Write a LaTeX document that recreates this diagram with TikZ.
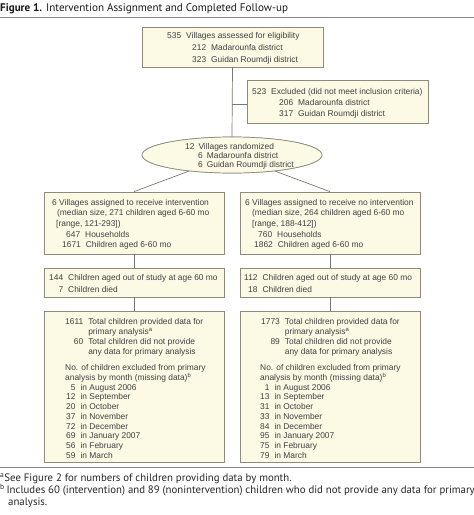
\documentclass[tikz,border=0pt]{standalone}
\usepackage{fontspec}
\setmainfont{Liberation Sans}
\newfontfamily\headfont{PT Sans}
\usetikzlibrary{shapes.geometric}
\definecolor{boxfill}{HTML}{FCF9E5}
\definecolor{boxline}{HTML}{8E8B7C}
\definecolor{txtc}{HTML}{404040}
\definecolor{rulec}{HTML}{858585}
\definecolor{linkc}{HTML}{7A786E}
\newcommand{\tl}[1]{\begin{tabular}[t]{@{}l@{}}#1\end{tabular}}
\newcommand{\tr}[1]{\begin{tabular}[t]{@{}r@{\hspace{5pt}}l@{}}#1\end{tabular}}
\begin{document}
\begin{tikzpicture}[x=1pt,y=-1pt,
  box/.style={draw=boxline, fill=boxfill, line width=0.7pt, inner sep=0pt},
  link/.style={draw=linkc, line width=0.7pt},
  txt/.style={anchor=base west, inner sep=0pt, text=txtc, font=\fontsize{8.4}{#1}\selectfont},
  txt/.default=10,
  foot/.style={anchor=base west, inner sep=0pt, text=black!85, font=\headfont\fontsize{10.8}{12}\selectfont}]
\useasboundingbox (0,0) rectangle (474,515);

% title
\node[anchor=base west, inner sep=0pt, text=black!90, font=\headfont\fontsize{11.1}{12}\selectfont] (title) at (0,11)
  {\textbf{Figure 1.} Intervention Assignment and Completed Follow-up};
\draw[draw=rulec, line width=1pt] (0,17.5) -- (474,17.5);

% boxes
\node[box, minimum width=181pt, minimum height=40pt] (b1) at (232.5,47) {};
\node[box, minimum width=181pt, minimum height=43pt] (ex) at (337.5,101.5) {};
\node[box, ellipse, minimum width=180pt, minimum height=36pt] (el) at (232,155) {};
\node[box, minimum width=180pt, minimum height=62pt] (b2l) at (134,223) {};
\node[box, minimum width=180pt, minimum height=62pt] (b2r) at (330,223) {};
\node[box, minimum width=180pt, minimum height=29pt] (b3l) at (134,282.5) {};
\node[box, minimum width=180pt, minimum height=29pt] (b3r) at (330,282.5) {};
\node[box, minimum width=180pt, minimum height=151pt] (b4l) at (134,386.5) {};
\node[box, minimum width=180pt, minimum height=151pt] (b4r) at (330,386.5) {};

% connectors
\coordinate (j) at (232,104);
\draw[link] (b1.south) -- (el.north);
\draw[link] (j) -- (j -| ex.west);
\draw[link] (el) -- (b2l.north);
\draw[link] (el) -- (b2r.north);
\draw[link] (b2l.south) -- (b3l.north);
\draw[link] (b2r.south) -- (b3r.north);
\draw[link] (b3l.south) -- (b4l.north);
\draw[link] (b3r.south) -- (b4r.north);
% redraw ellipse on top of links
\node[box, ellipse, minimum width=180pt, minimum height=36pt] (el2) at (232,155) {};

% texts
\node[txt=12] (t1) at (167,38) {\tl{535\hspace{5pt}Villages assessed for eligibility\\
  \hspace{25pt}212\hspace{5pt}Madarounfa district\\
  \hspace{25pt}323\hspace{5pt}Guidan Roumdji district}};
\node[txt=11] (tex) at (252,94) {\tl{523\hspace{5pt}Excluded (did not meet inclusion criteria)\\
  \hspace{27pt}206\hspace{5pt}Madarounfa district\\
  \hspace{27pt}317\hspace{5pt}Guidan Roumdji district}};
\node[txt=9.3] (tel) at (185,149) {\tl{12\hspace{4pt}Villages randomized\\
  \hspace{13pt}6\hspace{4pt}Madarounfa district\\
  \hspace{13pt}6\hspace{4pt}Guidan Roumdji district}};

\node[txt=10.7] (t2l) at (52,205) {\tl{6 Villages assigned to receive intervention\\
  \hspace{5pt}(median size, 271 children aged 6-60 mo\\
  \hspace{4pt}[range, 121-293])\\
  \hspace{14pt}647\hspace{5pt}Households\\
  \hspace{10pt}1671\hspace{5pt}Children aged 6-60 mo}};
\node[txt=10.7] (t2r) at (245,205) {\tl{6 Villages assigned to receive no intervention\\
  \hspace{7pt}(median size, 264 children aged 6-60 mo\\
  \hspace{7pt}[range, 188-412])\\
  \hspace{13pt}760\hspace{5pt}Households\\
  \hspace{9pt}1862\hspace{5pt}Children aged 6-60 mo}};

\node[txt=12] (t3l) at (49,280) {\tr{144 & Children aged out of study at age 60 mo\\ 7 & Children died}};
\node[txt=12] (t3r) at (244,280) {\tr{112 & Children aged out of study at age 60 mo\\ 18 & Children died}};

\node[txt=10] (t4l) at (65,324) {\tr{1611 & Total children provided data for\\
  & primary analysis\textsuperscript{a}\\
  60 & Total children did not provide\\
  & any data for primary analysis}};
\node[txt=10] (t4r) at (261,324) {\tr{1773 & Total children provided data for\\
  & primary analysis\textsuperscript{a}\\
  89 & Total children did not provide\\
  & any data for primary analysis}};
\node[txt=10] (n4l) at (65,370) {\tl{No. of children excluded from primary\\
  analysis by month (missing data)\textsuperscript{b}}};
\node[txt=10] (n4r) at (260,370) {\tl{No. of children excluded from primary\\
  analysis by month (missing data)\textsuperscript{b}}};
\node[txt=9.75] (m4l) at (66,390) {\tr{5 & in August 2006\\ 12 & in September\\ 20 & in October\\
  37 & in November\\ 72 & in December\\ 69 & in January 2007\\ 56 & in February\\ 59 & in March}};
\node[txt=9.75] (m4r) at (260,390) {\tr{1 & in August 2006\\ 13 & in September\\ 31 & in October\\
  33 & in November\\ 84 & in December\\ 95 & in January 2007\\ 75 & in February\\ 79 & in March}};

% footnotes
\draw[draw=rulec, line width=1pt] (0,467.5) -- (474,467.5);
\node[foot] (f1) at (0,481) {\textsuperscript{a}See Figure 2 for numbers of children providing data by month.};
\node[foot] (f2) at (0,493) {\textsuperscript{b}\,Includes 60 (intervention) and 89 (nonintervention) children who did not provide any data for primary};
\node[foot] (f3) at (8,505) {analysis.};
\end{tikzpicture}
\end{document}
